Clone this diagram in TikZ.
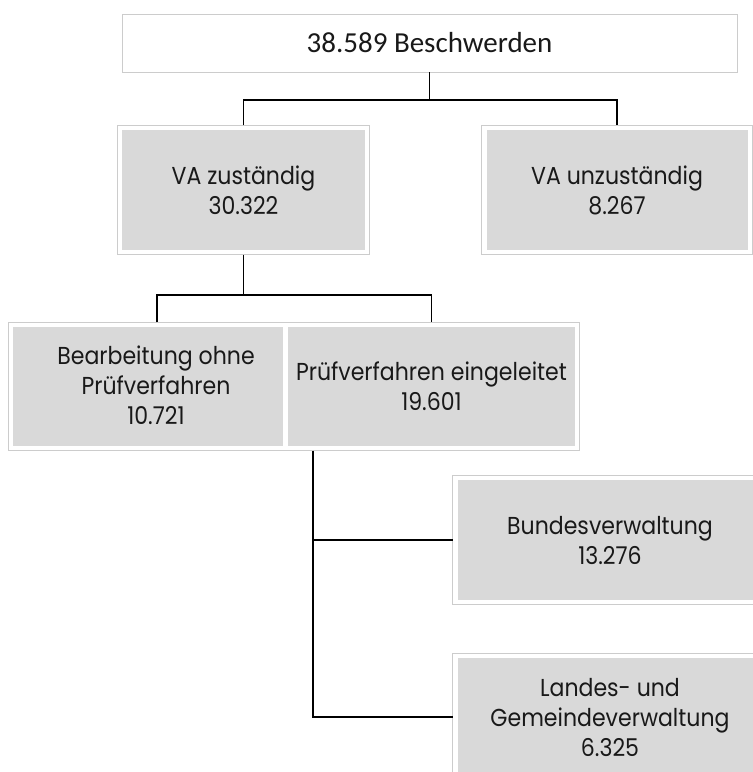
\documentclass[tikz,border=0pt]{standalone}
\usepackage{fontspec}
\newfontfamily\boxfont[FakeStretch=0.9]{Poppins}
\newfontfamily\topfont{Carlito}
\definecolor{boxgray}{HTML}{D9D9D9}
\definecolor{framegray}{HTML}{CCCCCC}
\begin{document}
\begin{tikzpicture}[x=1pt,y=-1pt,
  boxtext/.style={align=center, inner sep=0pt,
    font=\boxfont\fontsize{24.5}{30}\selectfont, text=black!90},
  inbox/.style 2 args={boxtext, fill=boxgray, draw=none,
    minimum width=#1pt, minimum height=#2pt},
  topbox/.style={draw=framegray, fill=white, inner sep=0pt,
    font=\topfont\fontsize{29}{34}\selectfont, text=black!90,
    minimum width=615pt, minimum height=58pt},
  frame/.style={draw=framegray, line width=1pt},
  conn/.style={draw=black, line width=1.8pt}]
\useasboundingbox (0,0) rectangle (753,772);
\fill[white] (0,0) rectangle (753,772);

\node[topbox] (top) at (429.5,43) {38.589 Beschwerden};

\node[inbox={243}{120}] (vaz) at (243.5,190) {VA zuständig\\30.322};
\node[inbox={261}{120}] (vau) at (617,190) {VA unzuständig\\8.267};
\node[inbox={270}{119}] (bea) at (148,386.5) {};
\node[boxtext] (beat) at (156,385) {Bearbeitung ohne\\Prüfverfahren\\10.721};
\node[inbox={287}{119}] (pru) at (431.5,386.5) {Prüfverfahren eingeleitet\\19.601};
\node[inbox={305}{120}] (bun) at (610,540) {Bundesverwaltung\\13.276};
\node[inbox={305}{118}] (lan) at (610,717) {Landes- und\\Gemeindeverwaltung\\6.325};

\foreach \n in {vaz,vau,bun,lan}
  \draw[frame] ([shift={(-4.5pt,-4.5pt)}]\n.south west) rectangle ([shift={(4.5pt,4.5pt)}]\n.north east);
\draw[frame] ([shift={(-4.5pt,-4.5pt)}]bea.south west) rectangle ([shift={(4.5pt,4.5pt)}]pru.north east);

% connectors
\coordinate (j1) at (top.south |- 0,100);
\draw[conn] (top.south) -- (j1);
\draw[conn] ([yshift=4.5pt]vaz.north) |- (j1) -| ([yshift=4.5pt]vau.north);

\coordinate (j2) at ([yshift=-4.5pt]vaz.south);
\coordinate (j3) at (j2 |- 0,295);
\draw[conn] (j2) -- (j3);
\draw[conn] ([xshift=9pt,yshift=4.5pt]bea.north) |- (j3) -| ([yshift=4.5pt]pru.north);

\coordinate (pd) at ([xshift=25pt,yshift=-4.5pt]pru.south west);
\draw[conn] (pd) |- ([xshift=-4.5pt]lan.west);
\draw[conn] (pd |- bun.west) -- ([xshift=-4.5pt]bun.west);
\end{tikzpicture}
\end{document}
